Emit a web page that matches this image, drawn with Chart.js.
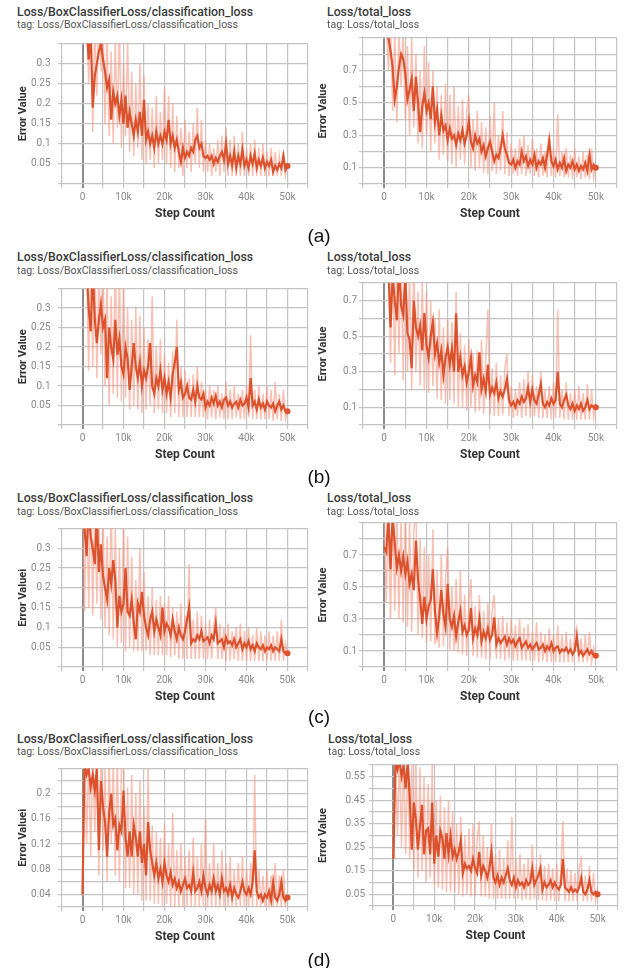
<!DOCTYPE html>
<html>
<head>
<meta charset="utf-8">
<script src="https://cdn.jsdelivr.net/npm/chart.js@4.4.1/dist/chart.umd.min.js"></script>
<style>
  body { margin: 0; background: #fff; }
  #page { position: relative; width: 625px; height: 968px; overflow: hidden; background: #fff; }
  canvas { position: absolute; }
  .ttl { position: absolute; font-family: Roboto, sans-serif; font-size: 12.3px; line-height: 13px; font-weight: 500; color: #3a3a3a; white-space: nowrap; }
  .tag { position: absolute; font-family: Roboto, sans-serif; font-size: 10.5px; line-height: 11px; color: #555; white-space: nowrap; }
  .row { position: absolute; width: 40px; text-align: center; font-family: "Liberation Sans", Arial, sans-serif; font-size: 19px; line-height: 20px; color: #111; }
</style>
</head>
<body>
<div id="page"></div>
<script>
// training steps (x), every 500 steps
const steps = [0,500,1000,1500,2000,2500,3000,3500,4000,4500,
  5000,5500,6000,6500,7000,7500,8000,8500,9000,9500,
  10000,10500,11000,11500,12000,12500,13000,13500,14000,14500,
  15000,15500,16000,16500,17000,17500,18000,18500,19000,19500,
  20000,20500,21000,21500,22000,22500,23000,23500,24000,24500,
  25000,25500,26000,26500,27000,27500,28000,28500,29000,29500,
  30000,30500,31000,31500,32000,32500,33000,33500,34000,34500,
  35000,35500,36000,36500,37000,37500,38000,38500,39000,39500,
  40000,40500,41000,41500,42000,42500,43000,43500,44000,44500,
  45000,45500,46000,46500,47000,47500,48000,48500,49000,49500,
  50000];

// tick labels shown on the y axes
const clsLabels = [0.05, 0.1, 0.15, 0.2, 0.25, 0.3];
const totalLabels = [0.1, 0.3, 0.5, 0.7];
const dClsLabels = [0.04, 0.08, 0.12, 0.16, 0.2];
const dTotalLabels = [0.05, 0.15, 0.25, 0.35, 0.45, 0.55];

// (a) classification loss
const aClsSmooth = [null,null,0.40,0.31,0.38,0.19,0.27,0.30,0.33,0.35,
  0.31,0.28,0.24,0.26,0.16,0.23,0.20,0.22,0.17,0.21,
  0.15,0.22,0.14,0.18,0.15,0.12,0.16,0.13,0.18,0.12,
  0.21,0.11,0.13,0.10,0.12,0.09,0.13,0.10,0.12,0.10,
  0.13,0.11,0.16,0.10,0.12,0.09,0.11,0.08,0.055,0.09,
  0.065,0.08,0.07,0.09,0.08,0.11,0.12,0.09,0.10,0.07,
  0.065,0.07,0.06,0.07,0.05,0.065,0.055,0.07,0.08,0.06,
  0.10,0.05,0.07,0.045,0.08,0.04,0.07,0.05,0.085,0.045,
  0.06,0.04,0.07,0.05,0.075,0.04,0.06,0.045,0.065,0.04,
  0.055,0.045,0.06,0.03,0.045,0.035,0.05,0.04,0.07,0.035,
  0.045];
const aClsRaw = [null,null,0.45,0.25,0.45,0.13,0.40,0.22,0.45,0.28,
  0.42,0.15,0.38,0.12,0.33,0.10,0.36,0.14,0.40,0.09,
  0.30,0.12,0.36,0.08,0.28,0.07,0.25,0.09,0.30,0.06,
  0.27,0.05,0.20,0.06,0.19,0.04,0.22,0.05,0.18,0.06,
  0.24,0.05,0.22,0.04,0.20,0.03,0.17,0.04,0.14,0.02,
  0.16,0.04,0.13,0.03,0.15,0.05,0.19,0.04,0.16,0.03,
  0.11,0.03,0.10,0.02,0.09,0.03,0.11,0.02,0.12,0.03,
  0.14,0.02,0.11,0.02,0.12,0.02,0.10,0.02,0.13,0.02,
  0.09,0.02,0.10,0.02,0.11,0.02,0.09,0.02,0.10,0.02,
  0.08,0.02,0.09,0.02,0.08,0.02,0.07,0.02,0.08,0.02,
  0.05];

// (a) total loss
const aTotSmooth = [null,0.95,0.90,0.82,0.72,0.52,0.60,0.72,0.80,0.77,
  0.68,0.52,0.58,0.65,0.45,0.66,0.50,0.32,0.48,0.56,
  0.45,0.50,0.40,0.60,0.38,0.46,0.30,0.42,0.33,0.36,
  0.27,0.34,0.28,0.30,0.24,0.31,0.27,0.33,0.25,0.30,
  0.39,0.26,0.22,0.30,0.25,0.28,0.20,0.24,0.17,0.22,
  0.26,0.20,0.14,0.18,0.16,0.22,0.30,0.22,0.18,0.13,
  0.12,0.15,0.10,0.14,0.12,0.20,0.14,0.17,0.11,0.15,
  0.12,0.18,0.10,0.14,0.12,0.16,0.10,0.18,0.27,0.14,
  0.11,0.15,0.09,0.13,0.10,0.16,0.08,0.12,0.10,0.14,
  0.09,0.12,0.08,0.11,0.09,0.13,0.08,0.18,0.09,0.12,
  0.10];
const aTotRaw = [null,1.0,0.70,1.0,0.45,0.95,0.38,0.95,0.60,0.95,
  0.40,0.85,0.30,0.90,0.35,0.80,0.25,0.70,0.22,0.85,
  0.30,0.75,0.20,0.70,0.25,0.60,0.15,0.55,0.18,0.62,
  0.14,0.55,0.12,0.60,0.10,0.48,0.15,0.52,0.12,0.45,
  0.55,0.10,0.40,0.08,0.45,0.10,0.38,0.07,0.35,0.06,
  0.42,0.08,0.50,0.06,0.30,0.08,0.45,0.06,0.32,0.05,
  0.25,0.06,0.22,0.05,0.28,0.06,0.30,0.05,0.24,0.06,
  0.28,0.05,0.22,0.04,0.25,0.05,0.20,0.04,0.30,0.05,
  0.22,0.04,0.43,0.05,0.20,0.04,0.22,0.04,0.18,0.03,
  0.22,0.04,0.17,0.03,0.20,0.04,0.18,0.03,0.22,0.04,
  0.12];

// (b) classification loss
const bClsSmooth = [null,null,0.40,0.30,0.24,0.40,0.27,0.21,0.27,0.31,
  0.25,0.27,0.12,0.25,0.20,0.17,0.27,0.18,0.22,0.15,
  0.13,0.20,0.17,0.09,0.15,0.21,0.15,0.12,0.16,0.10,
  0.14,0.12,0.15,0.21,0.10,0.08,0.12,0.10,0.14,0.09,
  0.12,0.08,0.11,0.07,0.13,0.16,0.20,0.09,0.11,0.07,
  0.08,0.10,0.07,0.065,0.09,0.06,0.10,0.07,0.065,0.08,
  0.045,0.06,0.05,0.07,0.055,0.075,0.05,0.06,0.045,0.065,
  0.07,0.05,0.06,0.045,0.055,0.06,0.045,0.065,0.05,0.055,
  0.07,0.045,0.12,0.05,0.06,0.04,0.065,0.045,0.055,0.04,
  0.06,0.05,0.045,0.055,0.035,0.05,0.06,0.04,0.05,0.035,
  0.035];
const bClsRaw = [null,null,0.45,0.14,0.45,0.15,0.45,0.12,0.40,0.18,
  0.42,0.10,0.38,0.05,0.33,0.08,0.45,0.07,0.40,0.06,
  0.36,0.07,0.30,0.04,0.27,0.05,0.30,0.04,0.28,0.03,
  0.25,0.04,0.22,0.05,0.33,0.03,0.20,0.04,0.22,0.03,
  0.18,0.03,0.16,0.02,0.19,0.03,0.27,0.02,0.15,0.02,
  0.14,0.02,0.12,0.02,0.13,0.02,0.15,0.02,0.11,0.02,
  0.09,0.015,0.10,0.02,0.09,0.015,0.10,0.02,0.08,0.015,
  0.11,0.015,0.09,0.015,0.10,0.02,0.08,0.015,0.09,0.015,
  0.10,0.02,0.23,0.015,0.09,0.015,0.10,0.015,0.08,0.015,
  0.10,0.015,0.09,0.01,0.11,0.015,0.08,0.01,0.09,0.015,
  0.04];

// (b) total loss
const bTotSmooth = [null,null,0.90,0.55,0.85,0.70,0.59,0.90,0.67,0.62,
  0.85,0.52,0.48,0.32,0.70,0.55,0.50,0.56,0.42,0.63,
  0.45,0.38,0.50,0.58,0.40,0.46,0.35,0.42,0.28,0.38,
  0.44,0.34,0.43,0.30,0.63,0.30,0.38,0.28,0.33,0.24,
  0.30,0.38,0.22,0.28,0.24,0.41,0.20,0.26,0.19,0.34,
  0.17,0.21,0.18,0.24,0.15,0.19,0.16,0.20,0.26,0.14,
  0.11,0.13,0.10,0.14,0.12,0.16,0.13,0.15,0.21,0.13,
  0.20,0.14,0.12,0.17,0.23,0.12,0.10,0.13,0.11,0.15,
  0.12,0.14,0.30,0.12,0.10,0.14,0.17,0.11,0.09,0.12,
  0.08,0.11,0.09,0.12,0.08,0.10,0.14,0.09,0.11,0.10,
  0.10];
const bTotRaw = [null,null,1.0,0.35,1.0,0.28,1.0,0.40,0.95,0.25,
  1.0,0.30,0.85,0.20,0.95,0.30,0.75,0.22,0.80,0.20,
  0.75,0.18,0.70,0.22,0.60,0.15,0.65,0.14,0.55,0.12,
  0.60,0.14,0.58,0.12,0.75,0.10,0.52,0.10,0.45,0.08,
  0.48,0.10,0.40,0.07,0.42,0.08,0.48,0.06,0.38,0.65,
  0.06,0.32,0.05,0.35,0.05,0.28,0.06,0.32,0.40,0.05,
  0.22,0.04,0.20,0.05,0.24,0.04,0.26,0.05,0.30,0.04,
  0.28,0.05,0.22,0.04,0.30,0.04,0.20,0.04,0.22,0.03,
  0.24,0.04,0.65,0.04,0.20,0.03,0.24,0.03,0.18,0.03,
  0.20,0.03,0.22,0.03,0.18,0.03,0.23,0.03,0.20,0.04,
  0.12];

// (c) classification loss
const cClsSmooth = [0.40,0.35,0.28,0.40,0.33,0.30,0.26,0.38,0.24,0.31,
  0.23,0.20,0.17,0.25,0.21,0.27,0.22,0.10,0.18,0.14,
  0.16,0.25,0.14,0.13,0.17,0.11,0.07,0.16,0.14,0.19,
  0.13,0.10,0.08,0.12,0.14,0.09,0.12,0.10,0.08,0.15,
  0.09,0.11,0.10,0.08,0.12,0.09,0.07,0.10,0.08,0.07,
  0.09,0.12,0.15,0.06,0.07,0.065,0.08,0.07,0.09,0.065,
  0.07,0.075,0.06,0.08,0.07,0.11,0.06,0.065,0.07,0.05,
  0.075,0.06,0.065,0.055,0.07,0.05,0.06,0.07,0.045,0.06,
  0.05,0.065,0.045,0.055,0.04,0.06,0.05,0.045,0.055,0.04,
  0.05,0.045,0.055,0.04,0.05,0.045,0.04,0.07,0.04,0.035,
  0.035];
const cClsRaw = [0.45,0.14,0.45,0.15,0.45,0.13,0.42,0.16,0.38,0.12,
  0.40,0.10,0.33,0.08,0.42,0.07,0.35,0.05,0.30,0.06,
  0.36,0.04,0.33,0.05,0.28,0.04,0.22,0.04,0.30,0.04,
  0.24,0.04,0.18,0.03,0.20,0.03,0.17,0.03,0.18,0.03,
  0.16,0.03,0.18,0.025,0.15,0.03,0.14,0.02,0.16,0.02,
  0.13,0.02,0.26,0.02,0.12,0.02,0.14,0.02,0.13,0.02,
  0.11,0.02,0.12,0.02,0.10,0.15,0.02,0.11,0.02,0.10,
  0.015,0.11,0.015,0.09,0.02,0.10,0.015,0.11,0.015,0.09,
  0.015,0.10,0.015,0.08,0.015,0.10,0.015,0.09,0.015,0.08,
  0.015,0.09,0.015,0.08,0.015,0.09,0.015,0.12,0.015,0.06,
  0.03];

// (c) total loss
const cTotSmooth = [0.75,0.72,0.95,0.61,0.95,0.77,0.62,0.70,0.60,0.69,
  0.58,0.66,0.52,0.58,0.48,0.79,0.55,0.42,0.27,0.44,
  0.30,0.38,0.42,0.61,0.35,0.21,0.32,0.48,0.33,0.25,
  0.52,0.30,0.25,0.32,0.19,0.28,0.35,0.22,0.26,0.20,
  0.23,0.37,0.18,0.24,0.20,0.30,0.16,0.22,0.18,0.24,
  0.17,0.20,0.31,0.14,0.18,0.15,0.17,0.19,0.14,0.18,
  0.15,0.17,0.13,0.16,0.18,0.12,0.14,0.16,0.12,0.14,
  0.11,0.13,0.15,0.11,0.12,0.14,0.10,0.13,0.11,0.15,
  0.10,0.12,0.13,0.09,0.11,0.10,0.12,0.09,0.11,0.08,
  0.10,0.19,0.08,0.10,0.07,0.09,0.11,0.08,0.10,0.07,
  0.07];
const cTotRaw = [0.95,0.40,1.0,0.30,1.0,0.35,1.0,0.30,0.95,0.28,
  1.0,0.25,0.90,0.22,0.85,1.0,0.20,0.80,0.18,0.75,
  0.15,0.70,0.16,0.86,0.14,0.60,0.12,0.70,0.13,0.55,
  0.75,0.11,0.50,0.10,0.55,0.09,0.60,0.08,0.45,0.07,
  0.40,0.55,0.07,0.38,0.06,0.45,0.06,0.35,0.05,0.40,
  0.05,0.35,0.45,0.05,0.30,0.05,0.32,0.04,0.28,0.05,
  0.30,0.04,0.26,0.04,0.30,0.04,0.25,0.04,0.27,0.04,
  0.22,0.04,0.28,0.03,0.22,0.04,0.20,0.03,0.24,0.03,
  0.20,0.03,0.26,0.03,0.20,0.03,0.22,0.03,0.18,0.03,
  0.20,0.25,0.03,0.18,0.03,0.20,0.03,0.22,0.03,0.12,
  0.05];

// (d) classification loss
const dClsSmooth = [0.04,0.25,0.23,0.24,0.21,0.23,0.205,0.24,0.11,0.22,
  0.18,0.155,0.10,0.17,0.20,0.15,0.16,0.11,0.15,0.14,
  0.205,0.13,0.10,0.14,0.10,0.15,0.13,0.10,0.14,0.09,
  0.12,0.07,0.155,0.11,0.09,0.07,0.09,0.065,0.08,0.06,
  0.09,0.07,0.06,0.075,0.055,0.065,0.05,0.06,0.045,0.055,
  0.065,0.05,0.055,0.045,0.075,0.045,0.05,0.06,0.045,0.07,
  0.05,0.04,0.055,0.045,0.065,0.045,0.055,0.04,0.065,0.045,
  0.05,0.04,0.055,0.035,0.05,0.04,0.035,0.045,0.06,0.045,
  0.04,0.05,0.04,0.06,0.11,0.045,0.035,0.04,0.03,0.04,
  0.035,0.045,0.03,0.06,0.035,0.03,0.04,0.06,0.035,0.03,
  0.035];
const dClsRaw = [0.04,0.26,0.12,0.26,0.10,0.26,0.14,0.26,0.07,0.26,
  0.11,0.24,0.06,0.26,0.12,0.25,0.07,0.26,0.06,0.24,
  0.26,0.05,0.21,0.05,0.23,0.04,0.20,0.04,0.22,0.03,
  0.18,0.03,0.24,0.03,0.15,0.025,0.14,0.025,0.13,0.02,
  0.15,0.025,0.12,0.02,0.17,0.02,0.11,0.02,0.12,0.02,
  0.10,0.02,0.11,0.02,0.13,0.02,0.10,0.02,0.12,0.02,
  0.16,0.02,0.09,0.02,0.12,0.02,0.09,0.02,0.11,0.02,
  0.09,0.02,0.10,0.02,0.08,0.02,0.09,0.02,0.10,0.02,
  0.08,0.02,0.09,0.02,0.23,0.02,0.08,0.02,0.07,0.02,
  0.08,0.02,0.07,0.02,0.09,0.02,0.07,0.02,0.08,0.02,
  0.04];

// (d) total loss
const dTotSmooth = [0.20,0.62,0.58,0.62,0.55,0.60,0.50,0.62,0.46,0.24,
  0.44,0.37,0.24,0.34,0.43,0.22,0.32,0.33,0.22,0.44,
  0.18,0.30,0.21,0.32,0.29,0.20,0.31,0.22,0.30,0.21,
  0.24,0.20,0.23,0.28,0.14,0.18,0.16,0.17,0.15,0.20,
  0.16,0.14,0.23,0.13,0.17,0.15,0.12,0.16,0.23,0.12,
  0.10,0.13,0.09,0.12,0.10,0.13,0.16,0.11,0.09,0.12,
  0.08,0.11,0.09,0.10,0.08,0.11,0.09,0.10,0.16,0.09,
  0.11,0.13,0.16,0.07,0.10,0.08,0.09,0.11,0.08,0.10,
  0.08,0.07,0.09,0.20,0.08,0.07,0.06,0.08,0.06,0.07,
  0.06,0.08,0.12,0.06,0.05,0.07,0.11,0.06,0.05,0.06,
  0.05];
const dTotRaw = [0.20,0.65,0.30,0.65,0.25,0.65,0.22,0.65,0.20,0.60,
  0.15,0.62,0.12,0.59,0.15,0.55,0.10,0.52,0.12,0.60,
  0.09,0.45,0.08,0.47,0.07,0.42,0.06,0.45,0.06,0.40,
  0.06,0.35,0.05,0.38,0.04,0.30,0.05,0.33,0.04,0.35,
  0.04,0.28,0.36,0.04,0.30,0.04,0.25,0.03,0.35,0.03,
  0.22,0.03,0.24,0.03,0.20,0.03,0.28,0.03,0.38,0.03,
  0.20,0.03,0.22,0.025,0.18,0.03,0.20,0.025,0.26,0.03,
  0.18,0.025,0.22,0.025,0.17,0.02,0.18,0.025,0.16,0.02,
  0.18,0.02,0.15,0.36,0.02,0.16,0.02,0.15,0.02,0.14,
  0.02,0.16,0.20,0.02,0.13,0.02,0.17,0.02,0.14,0.02,
  0.08];

const clsTitle = 'Loss/BoxClassifierLoss/classification_loss';
const totTitle = 'Loss/total_loss';

// panel layout: plot box = [left, top, right, bottom] in page pixels
const panels = [
  { title: clsTitle, smooth: aClsSmooth, raw: aClsRaw, yMin: 0, yMax: 0.35, yStep: 0.05, yLabels: clsLabels, yTitle: 'Error Value', x0: 0, box: [62, 38, 311, 183.5], tickPad: 7.5, titlePad: 16.5, tt: 6, tg: 19, tx: 17 },
  { title: totTitle, smooth: aTotSmooth, raw: aTotRaw, yMin: 0, yMax: 0.9, yStep: 0.1, yLabels: totalLabels, yTitle: 'Error Value', x0: 310, box: [363, 38, 620, 183.5], tickPad: 2, titlePad: 6.5, tt: 6, tg: 19, tx: 327 },
  { title: clsTitle, smooth: bClsSmooth, raw: bClsRaw, yMin: 0, yMax: 0.35, yStep: 0.05, yLabels: clsLabels, yTitle: 'Error Value', x0: 0, box: [62, 283, 311, 424.5], tickPad: 7.5, titlePad: 16.5, tt: 251, tg: 264.5, tx: 17 },
  { title: totTitle, smooth: bTotSmooth, raw: bTotRaw, yMin: 0, yMax: 0.8, yStep: 0.1, yLabels: totalLabels, yTitle: 'Error Value', x0: 310, box: [363, 283, 620, 424.5], tickPad: 2, titlePad: 6.5, tt: 251, tg: 264.5, tx: 327 },
  { title: clsTitle, smooth: cClsSmooth, raw: cClsRaw, yMin: 0, yMax: 0.35, yStep: 0.05, yLabels: clsLabels, yTitle: 'Error Valuei', x0: 0, box: [62, 523, 311, 666.5], tickPad: 7.5, titlePad: 16.5, tt: 492, tg: 505.5, tx: 17 },
  { title: totTitle, smooth: cTotSmooth, raw: cTotRaw, yMin: 0, yMax: 0.9, yStep: 0.1, yLabels: totalLabels, yTitle: 'Error Value', x0: 310, box: [363, 523, 620, 666.5], tickPad: 2, titlePad: 6.5, tt: 492, tg: 505.5, tx: 327 },
  { title: clsTitle, smooth: dClsSmooth, raw: dClsRaw, yMin: 0.02, yMax: 0.24, yStep: 0.02, yLabels: dClsLabels, yTitle: 'Error Valuei', x0: 0, box: [62, 763, 311, 906.5], tickPad: 7.5, titlePad: 16.5, tt: 732.5, tg: 746, tx: 17 },
  { title: totTitle, smooth: dTotSmooth, raw: dTotRaw, yMin: 0, yMax: 0.6, yStep: 0.05, yLabels: dTotalLabels, yTitle: 'Error Value', x0: 310, box: [373, 763, 621, 905.5], tickPad: 4, titlePad: 6.5, tt: 732.5, tg: 746, tx: 328 }
];

const rowLabels = [['(a)', 226], ['(b)', 467], ['(c)', 707], ['(d)', 950]];

const page = document.getElementById('page');
const gridColor = '#c4c4c4';
const lineColor = '#dc522d';
const rawColor = 'rgba(246, 150, 128, 0.6)';
const tickFont = { family: 'Roboto', size: 10 };

function addText(cls, text, left, top) {
  const d = document.createElement('div');
  d.className = cls;
  d.textContent = text;
  d.style.left = left + 'px';
  d.style.top = top + 'px';
  page.appendChild(d);
}

const padTop = 8;
const xAxisH = 39;

panels.forEach(function(p) {
  addText('ttl', p.title, p.tx, p.tt);
  addText('tag', 'tag: ' + p.title, p.tx, p.tg);

  const [L, T, R, B] = p.box;
  const top = T - padTop;
  const w = Math.round(R + 1 - p.x0);
  const h = Math.round(B + xAxisH - top);
  const canvas = document.createElement('canvas');
  canvas.width = w;
  canvas.height = h;
  canvas.style.left = p.x0 + 'px';
  canvas.style.top = top + 'px';
  canvas.style.width = w + 'px';
  canvas.style.height = h + 'px';
  page.appendChild(canvas);

  const last = steps.length - 1;
  const yLabelSet = p.yLabels.map(v => Math.round(v * 1000));

  new Chart(canvas.getContext('2d'), {
    type: 'line',
    data: {
      labels: steps,
      datasets: [{
        data: p.smooth,
        borderColor: lineColor,
        borderWidth: 2.2,
        tension: 0,
        pointRadius: c => c.dataIndex === last ? 3 : 0,
        pointBackgroundColor: lineColor,
        pointBorderWidth: 0
      }, {
        data: p.raw,
        borderColor: rawColor,
        borderWidth: 1.5,
        tension: 0,
        pointRadius: 0
      }]
    },
    options: {
      responsive: false,
      animation: false,
      devicePixelRatio: 1,
      layout: { padding: { top: padTop, right: 1, left: 0, bottom: 0 } },
      plugins: { legend: { display: false }, tooltip: { enabled: false } },
      scales: {
        x: {
          type: 'linear',
          min: -5000,
          max: 55000,
          afterFit: s => { s.height = xAxisH; },
          border: { display: false },
          grid: {
            color: c => (c.tick && c.tick.value === 0) ? '#8c8c8c' : gridColor,
            lineWidth: c => (c.tick && c.tick.value === 0) ? 2 : 1.2,
            tickLength: 4
          },
          ticks: {
            stepSize: 5000,
            autoSkip: false,
            maxRotation: 0,
            padding: 3,
            color: '#888',
            font: tickFont,
            callback: v => (v >= 0 && v <= 50000 && v % 10000 === 0) ? (v === 0 ? '0' : (v / 1000) + 'k') : ''
          },
          title: {
            display: true,
            text: 'Step Count',
            color: '#333',
            font: { family: 'Roboto', size: 12, weight: 'bold' },
            padding: 2
          }
        },
        y: {
          min: p.yMin,
          max: p.yMax,
          afterFit: s => { s.width = L - p.x0; },
          border: { display: false },
          grid: { color: gridColor, lineWidth: 1.2, tickLength: 4 },
          ticks: {
            stepSize: p.yStep,
            autoSkip: false,
            padding: p.tickPad,
            color: '#888',
            font: tickFont,
            callback: v => yLabelSet.includes(Math.round(v * 1000)) ? String(Math.round(v * 1000) / 1000) : ''
          },
          title: {
            display: true,
            text: p.yTitle,
            color: '#333',
            font: { family: 'Roboto', size: 11, weight: 'bold' },
            padding: p.titlePad
          }
        }
      }
    }
  });
});

rowLabels.forEach(function(r) {
  const d = document.createElement('div');
  d.className = 'row';
  d.textContent = r[0];
  d.style.left = '299px';
  d.style.top = r[1] + 'px';
  page.appendChild(d);
});
</script>
</body>
</html>
